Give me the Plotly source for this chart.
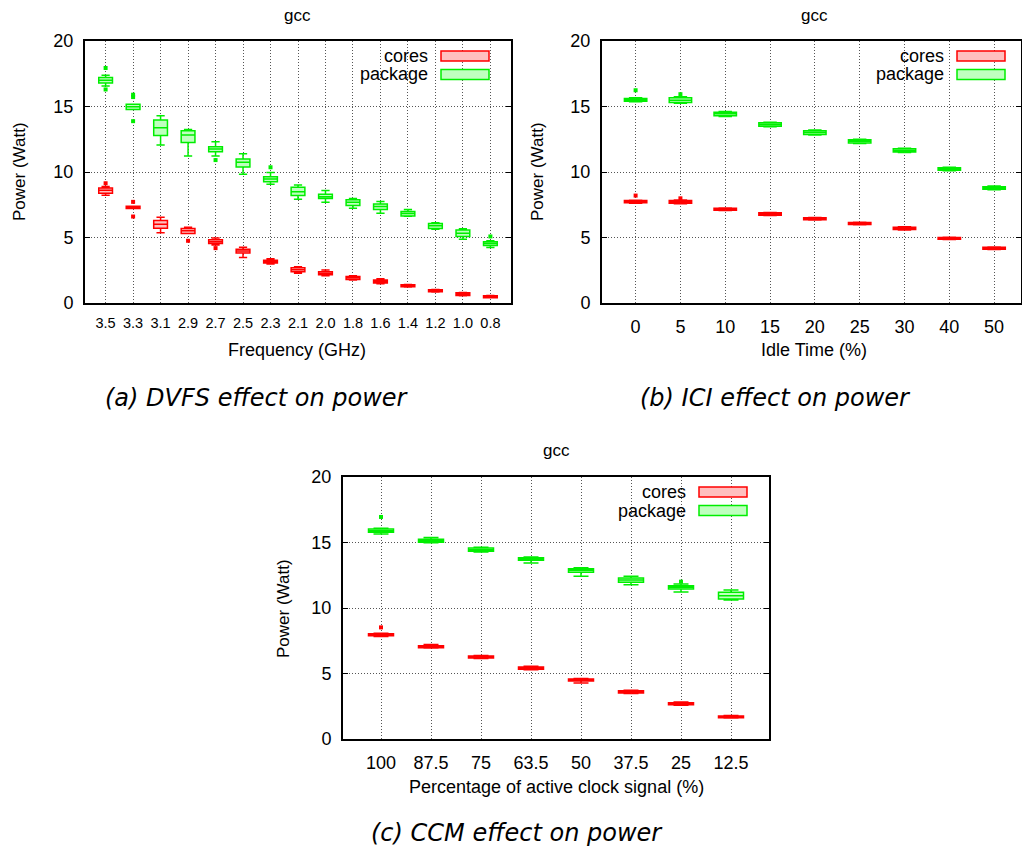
import plotly.graph_objects as go

W, H = 1022, 849


def px(x):
    return x / W


def py(y):
    return 1 - y / H


# ---------------- Data ----------------
# (a) DVFS
a_labels = ["3.5", "3.3", "3.1", "2.9", "2.7", "2.5", "2.3", "2.1", "2.0", "1.8", "1.6", "1.4", "1.2", "1.0", "0.8"]
a_cores_lo = [8.22, 7.21, 5.36, 5.30, 4.42, 3.48, 2.97, 2.28, 2.08, 1.75, 1.47, 1.22, 0.84, 0.56, 0.40]
a_cores_q1 = [8.38, 7.21, 5.71, 5.30, 4.54, 3.81, 3.05, 2.39, 2.16, 1.80, 1.52, 1.24, 0.86, 0.58, 0.41]
a_cores_med = [8.60, 7.31, 6.02, 5.51, 4.67, 3.96, 3.15, 2.54, 2.26, 1.93, 1.65, 1.32, 0.94, 0.69, 0.48]
a_cores_q3 = [8.78, 7.39, 6.29, 5.69, 4.82, 4.11, 3.27, 2.69, 2.39, 2.03, 1.75, 1.40, 1.02, 0.79, 0.56]
a_cores_hi = [8.90, 7.39, 6.55, 5.79, 4.97, 4.26, 3.38, 2.77, 2.51, 2.08, 1.85, 1.42, 1.04, 0.81, 0.58]
a_cores_out_x = ["3.5", "3.3", "3.3", "2.9", "2.7"]
a_cores_out_y = [9.14, 7.72, 6.60, 4.75, 4.19]

a_pkg_lo = [16.57, 14.78, 12.06, 11.22, 11.22, 9.82, 9.06, 7.92, 7.69, 7.23, 6.85, 6.62, 5.63, 4.87, 4.24]
a_pkg_q1 = [16.80, 14.78, 12.79, 12.26, 11.55, 10.38, 9.26, 8.20, 7.97, 7.44, 7.13, 6.65, 5.69, 5.08, 4.39]
a_pkg_med = [17.00, 14.98, 13.38, 12.82, 11.75, 10.74, 9.47, 8.50, 8.12, 7.69, 7.36, 6.83, 5.89, 5.33, 4.54]
a_pkg_q3 = [17.21, 15.18, 13.96, 13.15, 11.93, 10.99, 9.64, 8.83, 8.30, 7.89, 7.56, 6.98, 6.07, 5.58, 4.67]
a_pkg_hi = [17.39, 15.18, 14.29, 13.25, 12.31, 11.40, 9.97, 9.01, 8.58, 7.97, 7.74, 7.13, 6.12, 5.66, 4.75]
a_pkg_out_x = ["3.5", "3.5", "3.3", "3.3", "3.3", "2.7", "2.3", "0.8"]
a_pkg_out_y = [17.94, 16.30, 15.90, 15.72, 13.88, 10.91, 10.36, 5.08]

# (b) ICI
b_labels = ["0", "5", "10", "15", "20", "25", "30", "40", "50"]
b_cores_lo = [7.62, 7.58, 7.06, 6.68, 6.33, 5.97, 5.58, 4.85, 4.09]
b_cores_q1 = [7.66, 7.61, 7.08, 6.70, 6.35, 5.99, 5.61, 4.87, 4.11]
b_cores_med = [7.74, 7.72, 7.16, 6.80, 6.42, 6.07, 5.71, 4.95, 4.19]
b_cores_q3 = [7.82, 7.82, 7.23, 6.88, 6.50, 6.14, 5.79, 5.00, 4.26]
b_cores_hi = [7.85, 7.86, 7.25, 6.90, 6.52, 6.16, 5.82, 5.02, 4.28]
b_cores_out_x = ["0", "5"]
b_cores_out_y = [8.20, 7.99]

b_pkg_lo = [15.36, 15.25, 14.24, 13.46, 12.83, 12.17, 11.48, 10.10, 8.64]
b_pkg_q1 = [15.41, 15.30, 14.29, 13.50, 12.87, 12.21, 11.52, 10.13, 8.68]
b_pkg_med = [15.51, 15.48, 14.44, 13.63, 13.02, 12.34, 11.65, 10.23, 8.78]
b_pkg_q3 = [15.61, 15.66, 14.57, 13.76, 13.15, 12.46, 11.78, 10.33, 8.88]
b_pkg_hi = [15.66, 15.74, 14.62, 13.80, 13.20, 12.50, 11.82, 10.36, 8.94]
b_pkg_out_x = ["0", "5"]
b_pkg_out_y = [16.24, 15.94]

# (c) CCM
c_labels = ["100", "87.5", "75", "63.5", "50", "37.5", "25", "12.5"]
c_cores_lo = [7.82, 6.94, 6.15, 5.28, 4.27, 3.47, 2.58, 1.60]
c_cores_q1 = [7.89, 6.97, 6.18, 5.32, 4.43, 3.51, 2.62, 1.63]
c_cores_med = [7.96, 7.05, 6.26, 5.42, 4.50, 3.61, 2.70, 1.68]
c_cores_q3 = [8.04, 7.12, 6.34, 5.50, 4.58, 3.69, 2.77, 1.76]
c_cores_hi = [8.08, 7.22, 6.37, 5.55, 4.62, 3.73, 2.82, 1.79]
c_cores_out_x = ["100"]
c_cores_out_y = [8.52]

c_pkg_lo = [15.65, 14.98, 14.28, 13.44, 12.42, 11.78, 11.22, 10.61]
c_pkg_q1 = [15.78, 15.01, 14.33, 13.64, 12.72, 11.96, 11.45, 10.69]
c_pkg_med = [15.90, 15.14, 14.45, 13.74, 12.88, 12.14, 11.58, 10.94]
c_pkg_q3 = [16.03, 15.24, 14.58, 13.84, 13.00, 12.29, 11.70, 11.20]
c_pkg_hi = [16.08, 15.39, 14.63, 13.90, 13.08, 12.42, 11.83, 11.37]
c_pkg_out_x = ["100", "25"]
c_pkg_out_y = [16.95, 12.01]

series_names = ["cores", "package"]
line_colors = {"cores": "#ff0000", "package": "#00ee00"}
fill_colors = {"cores": "#ffbfbf", "package": "#bfffbf"}

FONT = "Liberation Sans, Arial, Helvetica, sans-serif"

fig = go.Figure()


def add_panel(xa, ya, labels, data):
    for name, (lo, q1, med, q3, hi, ox, oy) in data.items():
        fig.add_trace(go.Box(
            x=labels, lowerfence=lo, q1=q1, median=med, q3=q3, upperfence=hi,
            width=0.5, whiskerwidth=0.6, boxpoints=False,
            line=dict(color=line_colors[name], width=1.5),
            fillcolor=fill_colors[name], showlegend=False, name=name,
            xaxis=xa, yaxis=ya,
        ))
        fig.add_trace(go.Scatter(
            x=ox, y=oy, mode="markers",
            marker=dict(symbol="square", size=4, color=line_colors[name]),
            showlegend=False, xaxis=xa, yaxis=ya, hoverinfo="y",
        ))


add_panel("x", "y", a_labels, {
    "cores": (a_cores_lo, a_cores_q1, a_cores_med, a_cores_q3, a_cores_hi, a_cores_out_x, a_cores_out_y),
    "package": (a_pkg_lo, a_pkg_q1, a_pkg_med, a_pkg_q3, a_pkg_hi, a_pkg_out_x, a_pkg_out_y),
})
add_panel("x2", "y2", b_labels, {
    "cores": (b_cores_lo, b_cores_q1, b_cores_med, b_cores_q3, b_cores_hi, b_cores_out_x, b_cores_out_y),
    "package": (b_pkg_lo, b_pkg_q1, b_pkg_med, b_pkg_q3, b_pkg_hi, b_pkg_out_x, b_pkg_out_y),
})
add_panel("x3", "y3", c_labels, {
    "cores": (c_cores_lo, c_cores_q1, c_cores_med, c_cores_q3, c_cores_hi, c_cores_out_x, c_cores_out_y),
    "package": (c_pkg_lo, c_pkg_q1, c_pkg_med, c_pkg_q3, c_pkg_hi, c_pkg_out_x, c_pkg_out_y),
})

grid = dict(showgrid=True, gridcolor="#555555", gridwidth=1, griddash="1px,2px")
axline = dict(showline=True, linecolor="black", linewidth=2, mirror=True)


def xaxis(domain, labels, rng, anchor, fsize):
    return dict(domain=domain, anchor=anchor, type="category", categoryorder="array",
                categoryarray=labels, range=rng, ticks="", automargin=False,
                tickfont=dict(size=fsize, color="black", family=FONT),
                ticklabelstandoff=6, zeroline=False, **grid, **axline)


def yaxis(domain, anchor):
    return dict(domain=domain, anchor=anchor, range=[0, 20], tickvals=[0, 5, 10, 15, 20],
                ticks="inside", ticklen=5, tickcolor="black", tickwidth=1, automargin=False,
                tickfont=dict(size=18, color="black", family=FONT), ticklabelstandoff=6,
                zeroline=False, **grid, showline=True, linecolor="black", linewidth=2, mirror="allticks")


# panel pixel boxes (left, right, top, bottom)
A = (85, 511, 41, 303)
B = (602, 1021, 41, 303)
C = (343, 769, 477, 739)

fig.update_layout(
    width=W, height=H, autosize=False, margin=dict(l=0, r=0, t=0, b=0, pad=0, autoexpand=False),
    paper_bgcolor="white", plot_bgcolor="white",
    font=dict(family=FONT, color="black", size=18),
    boxmode="overlay",
    xaxis=xaxis([px(A[0]), px(A[1])], a_labels, [-0.75, 14.75], "y", 14.5),
    yaxis=yaxis([py(A[3]), py(A[2])], "x"),
    xaxis2=xaxis([px(B[0]), px(B[1])], b_labels, [-0.75, 8.6], "y2", 18),
    yaxis2=yaxis([py(B[3]), py(B[2])], "x2"),
    xaxis3=xaxis([px(C[0]), px(C[1])], c_labels, [-0.76, 7.76], "y3", 18),
    yaxis3=yaxis([py(C[3]), py(C[2])], "x3"),
)

ann = []
shapes = []


def text(x, y, s, size=18, xanchor="center", angle=0, family=FONT):
    ann.append(dict(x=px(x), y=py(y), xref="paper", yref="paper", text=s, showarrow=False,
                    xanchor=xanchor, yanchor="middle", textangle=angle,
                    font=dict(size=size, family=family, color="black")))


def legend(right, top):
    for i, name in enumerate(series_names):
        y0 = top + 10 + i * 18.5
        text(right - 81, y0 + 5, name, size=18, xanchor="right")
        shapes.append(dict(type="rect", xref="paper", yref="paper",
                           x0=px(right - 70), x1=px(right - 22), y0=py(y0), y1=py(y0 + 10),
                           line=dict(color=line_colors[name], width=1.5), fillcolor=fill_colors[name]))


# Panel a
text(297, 15, "gcc", size=17)
text(19, 172, "Power (Watt)", size=17, angle=-90)
text(297, 350, "Frequency (GHz)")
legend(511, 41)
# Panel b
text(814, 15, "gcc", size=17)
text(537, 172, "Power (Watt)", size=17, angle=-90)
text(814, 350, "Idle Time (%)")
legend(1027, 41)
# Panel c
text(556, 450, "gcc", size=17)
text(283, 609, "Power (Watt)", size=17, angle=-90)
text(556, 787, "Percentage of active clock signal (%)")
legend(769, 477)

CAP = "DejaVu Sans, sans-serif"
text(257, 398, "<i>(a) DVFS effect on power</i>", size=24, family=CAP)
text(775, 398, "<i>(b) ICI effect on power</i>", size=24, family=CAP)
text(517, 833, "<i>(c) CCM effect on power</i>", size=24, family=CAP)

fig.update_layout(annotations=ann, shapes=shapes)

fig.write_html("out.html")
